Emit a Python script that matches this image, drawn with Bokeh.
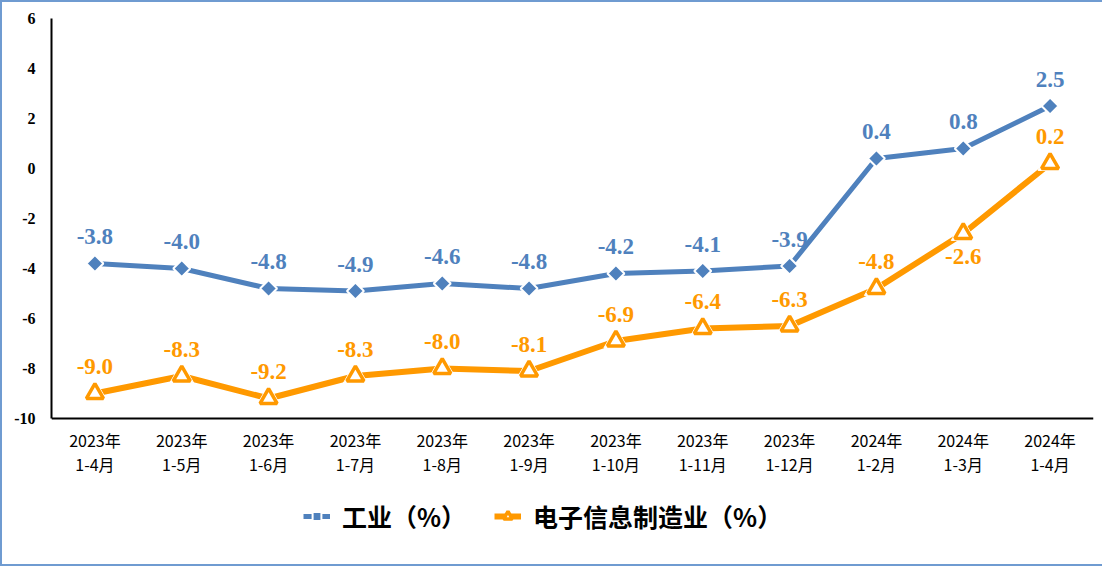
from bokeh.plotting import figure
from bokeh.models import FixedTicker, Legend, LegendItem, ColumnDataSource, FactorRange, Range1d
from bokeh.core.properties import value
from bokeh.embed import file_html
from bokeh.resources import INLINE

categories = ["2023年\n1-4月", "2023年\n1-5月", "2023年\n1-6月", "2023年\n1-7月",
              "2023年\n1-8月", "2023年\n1-9月", "2023年\n1-10月", "2023年\n1-11月",
              "2023年\n1-12月", "2024年\n1-2月", "2024年\n1-3月", "2024年\n1-4月"]
industry = [-3.8, -4.0, -4.8, -4.9, -4.6, -4.8, -4.2, -4.1, -3.9, 0.4, 0.8, 2.5]
electronics = [-9.0, -8.3, -9.2, -8.3, -8.0, -8.1, -6.9, -6.4, -6.3, -4.8, -2.6, 0.2]
y_ticks = [-10, -8, -6, -4, -2, 0, 2, 4, 6]
series_names = ["工业（%）", "电子信息制造业（%）"]

BLUE = "#4f81bd"
ORANGE = "#ff9900"

# label offsets (screen px): negative = above point
ind_offsets = [-27] * len(industry)
ele_offsets = [-27] * 10 + [23, -27]

src_i = ColumnDataSource(dict(x=categories, y=industry,
                              t=["%.1f" % v for v in industry], off=ind_offsets))
src_e = ColumnDataSource(dict(x=categories, y=electronics,
                              t=["%.1f" % v for v in electronics], off=ele_offsets))

# frame extends below the axis so the legend can sit inside it
p = figure(x_range=FactorRange(factors=categories), y_range=Range1d(-15.84, 6),
           frame_width=1042, frame_height=546,
           output_backend="svg", toolbar_location=None,
           min_border_left=49, min_border_right=11, min_border_top=16, min_border_bottom=0)
p.styles = {"border": "2px solid #6f9bd1", "height": "566px", "overflow": "hidden",
            "box-sizing": "border-box"}
p.outline_line_color = None
p.xgrid.visible = False
p.ygrid.visible = False

# y axis
p.yaxis.ticker = FixedTicker(ticks=y_ticks)
p.yaxis.bounds = (-10, 6)
p.yaxis.major_label_overrides = {t: str(t) for t in y_ticks}
p.yaxis.major_tick_line_color = None
p.yaxis.minor_tick_line_color = None
p.yaxis.axis_line_color = "black"
p.yaxis.axis_line_width = 2
p.yaxis.major_label_text_font = "Liberation Serif"
p.yaxis.major_label_text_font_style = "bold"
p.yaxis.major_label_text_font_size = "16px"
p.yaxis.major_label_text_color = "black"
p.yaxis.major_label_standoff = 10

# x axis drawn at y = -10
p.xaxis.fixed_location = -10
p.xaxis.major_tick_line_color = None
p.xaxis.minor_tick_line_color = None
p.xaxis.axis_line_color = "black"
p.xaxis.axis_line_width = 2
p.xaxis.major_label_text_font = "Noto Sans CJK SC"
p.xaxis.major_label_text_font_size = "16px"
p.xaxis.major_label_text_color = "black"
p.xaxis.major_label_text_line_height = 1.0
p.xaxis.major_label_standoff = 3

# series
l1 = p.line("x", "y", source=src_i, line_color=BLUE, line_width=5)
l2 = p.line("x", "y", source=src_e, line_color=ORANGE, line_width=6)
m1 = p.scatter("x", "y", source=src_i, marker="square", angle=0.7854, size=12,
               fill_color=BLUE, line_color="white", line_width=2)
w2 = p.scatter("x", "y", source=src_e, marker="triangle", size=24,
               fill_color="white", line_color="white", line_width=1)
m2 = p.scatter("x", "y", source=src_e, marker="triangle", size=17,
               fill_color="white", line_color=ORANGE, line_width=3.5)

p.text("x", "y", text="t", source=src_i, y_offset="off", text_color=BLUE,
       text_font=value("Liberation Serif"), text_font_style="bold",
       text_font_size="23px", text_align="center", text_baseline="middle")
p.text("x", "y", text="t", source=src_e, y_offset="off", text_color=ORANGE,
       text_font=value("Liberation Serif"), text_font_style="bold",
       text_font_size="23px", text_align="center", text_baseline="middle")

legend = Legend(items=[LegendItem(label=series_names[0], renderers=[l1, m1]),
                       LegendItem(label=series_names[1], renderers=[l2, m2])],
                location=(252, 30), orientation="horizontal",
                label_text_font="Noto Sans CJK SC", label_text_font_style="bold",
                label_text_font_size="25px", label_text_color="black",
                glyph_width=27, glyph_height=22, label_standoff=12, spacing=28,
                padding=0, margin=0, border_line_color=None, background_fill_alpha=0)
p.add_layout(legend)

open("out.html", "w").write(file_html(p, INLINE))
